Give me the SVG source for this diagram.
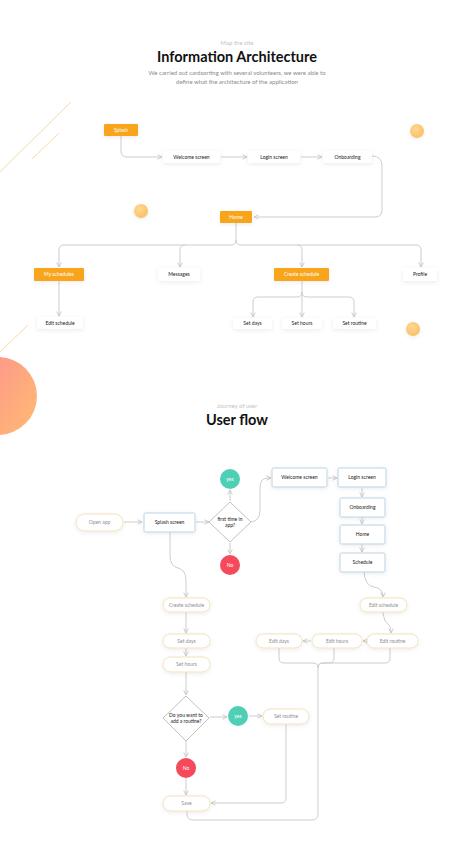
<svg xmlns="http://www.w3.org/2000/svg" width="474" height="861" viewBox="0 0 474 861">
<defs>
<style>
text{font-family:Lato,"Open Sans","Liberation Sans",sans-serif}
.h1{font-size:14.5px;font-weight:700;fill:#111;text-anchor:middle}
.sub{font-size:6px;fill:#c4c4c4;text-anchor:middle}
.desc{font-size:6px;fill:#8a8a8a;text-anchor:middle}
.t{font-size:5px;text-anchor:middle}
.tw{fill:#fff}
.tb{fill:#222}
.tg{fill:#8e8e8e}
.or{fill:#f8a51f}
.card{fill:#fff}
.pill{fill:#fff;stroke:#f3e2bb;stroke-width:1}
.box{fill:#fff;stroke:#b7d3e7;stroke-width:1}
.dia{fill:#fff;stroke:#c2c2c2;stroke-width:1}
.ln{fill:none;stroke:#cdcdcd;stroke-width:1}
.deco{fill:none;stroke:#f8d49c;stroke-width:0.9}
.dot{fill:url(#dotg)}
</style>
<filter id="sh" x="-30%" y="-50%" width="160%" height="220%">
<feDropShadow dx="0" dy="1.2" stdDeviation="2" flood-color="#000" flood-opacity="0.08"/>
</filter>
<radialGradient id="dotg" cx="40%" cy="35%" r="70%">
<stop offset="0" stop-color="#fdd894"/>
<stop offset="1" stop-color="#fbbf62"/>
</radialGradient>
<linearGradient id="big" x1="0" y1="0" x2="1" y2="0.6">
<stop offset="0" stop-color="#fc8a93"/>
<stop offset="1" stop-color="#ffb477"/>
</linearGradient>
<marker id="ar" viewBox="0 0 8 8" refX="7" refY="4" markerWidth="6" markerHeight="6" orient="auto" markerUnits="userSpaceOnUse">
<path d="M1,1 L7,4 L1,7" fill="none" stroke="#c6c6c6" stroke-width="1.2"/>
</marker>
</defs>
<rect width="474" height="861" fill="#fff"/>

<!-- Header -->
<text class="sub" x="237" y="45">Map the site</text>
<text class="h1" x="237" y="62">Information Architecture</text>
<text class="desc" x="237" y="75">We carried out cardsorting with several volunteers, we were able to</text>
<text class="desc" x="237" y="84">define what the architecture of the application</text>

<!-- decorations -->
<line class="deco" x1="71" y1="102" x2="0" y2="172"/>
<line class="deco" x1="59" y1="133" x2="32" y2="159"/>
<line class="deco" x1="28" y1="325" x2="0" y2="352"/>
<circle cx="-2" cy="396" r="39" fill="url(#big)"/>
<circle class="dot" cx="141" cy="211" r="7" filter="url(#sh)"/>
<circle class="dot" cx="417" cy="131" r="7" filter="url(#sh)"/>
<circle class="dot" cx="413" cy="329" r="7" filter="url(#sh)"/>

<!-- IA connectors -->
<g id="ia-connectors">
<path class="ln" d="M121,136 V151 Q121,157 127,157 H162" marker-end="url(#ar)"/>
<path class="ln" d="M221,157 H247" marker-end="url(#ar)"/>
<path class="ln" d="M301,157 H322" marker-end="url(#ar)"/>
<path class="ln" d="M372,156 Q382,156 382,166 V210 Q382,217 375,217 H254" marker-end="url(#ar)"/>
<path class="ln" d="M236,223 V240 Q236,245 231,245 H64 Q59,245 59,250 V267" marker-end="url(#ar)"/>
<path class="ln" d="M236,240 Q236,245 241,245 H416 Q421,245 421,250 V267" marker-end="url(#ar)"/>
<path class="ln" d="M185,245 Q180,245 180,250 V267" marker-end="url(#ar)"/>
<path class="ln" d="M297,245 Q302,245 302,250 V267" marker-end="url(#ar)"/>
<path class="ln" d="M59,281 V316" marker-end="url(#ar)"/>
<path class="ln" d="M302,281 V317" marker-end="url(#ar)"/>
<path class="ln" d="M302,292 Q302,297 297,297 H258 Q253,297 253,302 V317" marker-end="url(#ar)"/>
<path class="ln" d="M302,292 Q302,297 307,297 H349 Q354,297 354,302 V317" marker-end="url(#ar)"/>
</g>

<!-- IA nodes -->
<g id="ia-splash"><rect class="or" x="104" y="124" width="34" height="12" rx="1" filter="url(#sh)"/><text class="t tw" x="121" y="131.8">Splash</text></g>
<g id="ia-welcome"><rect class="card" x="163" y="151" width="57" height="12" rx="1.5" filter="url(#sh)"/><text class="t tb" x="191.5" y="158.8">Welcome screen</text></g>
<g id="ia-login"><rect class="card" x="248" y="151" width="52" height="12" rx="1.5" filter="url(#sh)"/><text class="t tb" x="274" y="158.8">Login screen</text></g>
<g id="ia-onboarding"><rect class="card" x="323" y="151" width="49" height="12" rx="1.5" filter="url(#sh)"/><text class="t tb" x="347.5" y="158.8">Onboarding</text></g>
<g id="ia-home"><rect class="or" x="220" y="211" width="32" height="12" rx="1" filter="url(#sh)"/><text class="t tw" x="236" y="218.8">Home</text></g>
<g id="ia-myschedules"><rect class="or" x="34" y="268" width="50" height="13" rx="1" filter="url(#sh)"/><text class="t tw" x="59" y="276.3">My schedules</text></g>
<g id="ia-messages"><rect class="card" x="158" y="268" width="42" height="13" rx="1.5" filter="url(#sh)"/><text class="t tb" x="179" y="276.3">Messages</text></g>
<g id="ia-createschedule"><rect class="or" x="274" y="268" width="55" height="13" rx="1" filter="url(#sh)"/><text class="t tw" x="301.5" y="276.3">Create schedule</text></g>
<g id="ia-profile"><rect class="card" x="403" y="268" width="34" height="13" rx="1.5" filter="url(#sh)"/><text class="t tb" x="420" y="276.3">Profile</text></g>
<g id="ia-editschedule"><rect class="card" x="37" y="317" width="46" height="12" rx="1.5" filter="url(#sh)"/><text class="t tb" x="60" y="324.8">Edit schedule</text></g>
<g id="ia-setdays"><rect class="card" x="233" y="318" width="39" height="11" rx="1.5" filter="url(#sh)"/><text class="t tb" x="252.5" y="325.3">Set days</text></g>
<g id="ia-sethours"><rect class="card" x="282" y="318" width="40" height="11" rx="1.5" filter="url(#sh)"/><text class="t tb" x="302" y="325.3">Set hours</text></g>
<g id="ia-setroutine"><rect class="card" x="333" y="318" width="43" height="11" rx="1.5" filter="url(#sh)"/><text class="t tb" x="354.5" y="325.3">Set routine</text></g>

<!-- User flow header -->
<text class="sub" x="237" y="408">Journey of user</text>
<text class="h1" x="237" y="425">User flow</text>

<!-- Flow connectors -->
<g id="flow-connectors">
<path class="ln" d="M124,522 H142" marker-end="url(#ar)"/>
<path class="ln" d="M196,522 H209" marker-end="url(#ar)"/>
<path class="ln" d="M230,501 V490" marker-end="url(#ar)"/>
<path class="ln" d="M230,543 V554" marker-end="url(#ar)"/>
<path class="ln" d="M251,522 Q260,521 260,510 V488 Q260,478 268,478 H271" marker-end="url(#ar)"/>
<path class="ln" d="M328,478 H337" marker-end="url(#ar)"/>
<path class="ln" d="M362,488 V497" marker-end="url(#ar)"/>
<path class="ln" d="M362,517 V524" marker-end="url(#ar)"/>
<path class="ln" d="M362,544 V552" marker-end="url(#ar)"/>
<path class="ln" d="M364,572 Q365,586 374,587 Q383,588 383,597" marker-end="url(#ar)"/>
<path class="ln" d="M383,612 Q384,622 388,624 Q391,626 391,633" marker-end="url(#ar)"/>
<path class="ln" d="M367,641 H363" marker-end="url(#ar)"/>
<path class="ln" d="M311,641 H303" marker-end="url(#ar)"/>
<path class="ln" d="M279,648 V658 Q279,663 284,663 H313 Q318,663 318,668"/>
<path class="ln" d="M334,648 V658 Q334,663 329,663 H323 Q318,663 318,668"/>
<path class="ln" d="M390,648 V658 Q390,663 385,663 H323 Q318,663 318,668 V814 Q318,820 312,820 H193 Q187,820 187,814 V811"/>
<path class="ln" d="M170,532 V556 Q170,566 178,568 Q186,570 186,580 V597" marker-end="url(#ar)"/>
<path class="ln" d="M186,612 V633" marker-end="url(#ar)"/>
<path class="ln" d="M186,648 V656" marker-end="url(#ar)"/>
<path class="ln" d="M186,672 V695" marker-end="url(#ar)"/>
<path class="ln" d="M210,717 H227" marker-end="url(#ar)"/>
<path class="ln" d="M249,716 H262" marker-end="url(#ar)"/>
<path class="ln" d="M186,741 V757" marker-end="url(#ar)"/>
<path class="ln" d="M186,778 V795" marker-end="url(#ar)"/>
<path class="ln" d="M286,724 V798 Q286,803 281,803 H211" marker-end="url(#ar)"/>
</g>

<!-- Flow nodes -->
<g id="uf-openapp"><rect class="pill" x="76" y="514" width="47" height="17" rx="8.5" filter="url(#sh)"/><text class="t tg" x="99.5" y="524.3">Open app</text></g>
<g id="uf-splash"><rect class="box" x="144" y="513" width="51" height="19" rx="1.5" filter="url(#sh)"/><text class="t tb" x="169.5" y="524.3">Splash screen</text></g>
<g id="uf-firsttime"><polygon class="dia" points="230,502 251,522 230,542 209,522"/><text class="t tb" x="230" y="520.5">first time in</text><text class="t tb" x="230" y="527">app?</text></g>
<g id="uf-yes1"><circle cx="230" cy="479" r="10" fill="#4fd0b6"/><text class="t tw" x="230" y="480.8">yes</text></g>
<g id="uf-no1"><circle cx="230" cy="565" r="10" fill="#f44a5c"/><text class="t tw" x="230" y="566.8">No</text></g>
<g id="uf-welcome"><rect class="box" x="272" y="468" width="55" height="19" rx="1.5" filter="url(#sh)"/><text class="t tb" x="299.5" y="479.3">Welcome screen</text></g>
<g id="uf-login"><rect class="box" x="338" y="468" width="48" height="19" rx="1.5" filter="url(#sh)"/><text class="t tb" x="362" y="479.3">Login screen</text></g>
<g id="uf-onboarding"><rect class="box" x="340" y="498" width="45" height="19" rx="1.5" filter="url(#sh)"/><text class="t tb" x="362.5" y="509.3">Onboarding</text></g>
<g id="uf-home"><rect class="box" x="340" y="525" width="45" height="19" rx="1.5" filter="url(#sh)"/><text class="t tb" x="362.5" y="536.3">Home</text></g>
<g id="uf-schedule"><rect class="box" x="340" y="553" width="45" height="19" rx="1.5" filter="url(#sh)"/><text class="t tb" x="362.5" y="564.3">Schedule</text></g>
<g id="uf-editschedule"><rect class="pill" x="360" y="598" width="47" height="14" rx="7" filter="url(#sh)"/><text class="t tg" x="383.5" y="606.8">Edit schedule</text></g>
<g id="uf-editroutine"><rect class="pill" x="367" y="634" width="51" height="14" rx="7" filter="url(#sh)"/><text class="t tg" x="392.5" y="642.8">Edit routine</text></g>
<g id="uf-edithours"><rect class="pill" x="312" y="634" width="50" height="14" rx="7" filter="url(#sh)"/><text class="t tg" x="337" y="642.8">Edit hours</text></g>
<g id="uf-editdays"><rect class="pill" x="256" y="634" width="46" height="14" rx="7" filter="url(#sh)"/><text class="t tg" x="279" y="642.8">Edit days</text></g>
<g id="uf-createschedule"><rect class="pill" x="163" y="598" width="47" height="14" rx="7" filter="url(#sh)"/><text class="t tg" x="186.5" y="606.8">Create schedule</text></g>
<g id="uf-setdays"><rect class="pill" x="163" y="634" width="47" height="14" rx="7" filter="url(#sh)"/><text class="t tg" x="186.5" y="642.8">Set days</text></g>
<g id="uf-sethours"><rect class="pill" x="163" y="657" width="47" height="15" rx="7.5" filter="url(#sh)"/><text class="t tg" x="186.5" y="666.3">Set hours</text></g>
<g id="uf-addroutine"><polygon class="dia" points="186,696 209,718 186,741 163,718"/><text class="t tb" x="186" y="716.5">Do you want to</text><text class="t tb" x="186" y="723">add a routine?</text></g>
<g id="uf-yes2"><circle cx="238" cy="716" r="10" fill="#4fd0b6"/><text class="t tw" x="238" y="717.8">yes</text></g>
<g id="uf-setroutine"><rect class="pill" x="263" y="709" width="46" height="15" rx="7.5" filter="url(#sh)"/><text class="t tg" x="286" y="718.3">Set routine</text></g>
<g id="uf-no2"><circle cx="186" cy="768" r="10" fill="#f44a5c"/><text class="t tw" x="186" y="769.8">No</text></g>
<g id="uf-save"><rect class="pill" x="163" y="796" width="47" height="15" rx="7.5" filter="url(#sh)"/><text class="t tg" x="186.5" y="805.3">Save</text></g>
</svg>
